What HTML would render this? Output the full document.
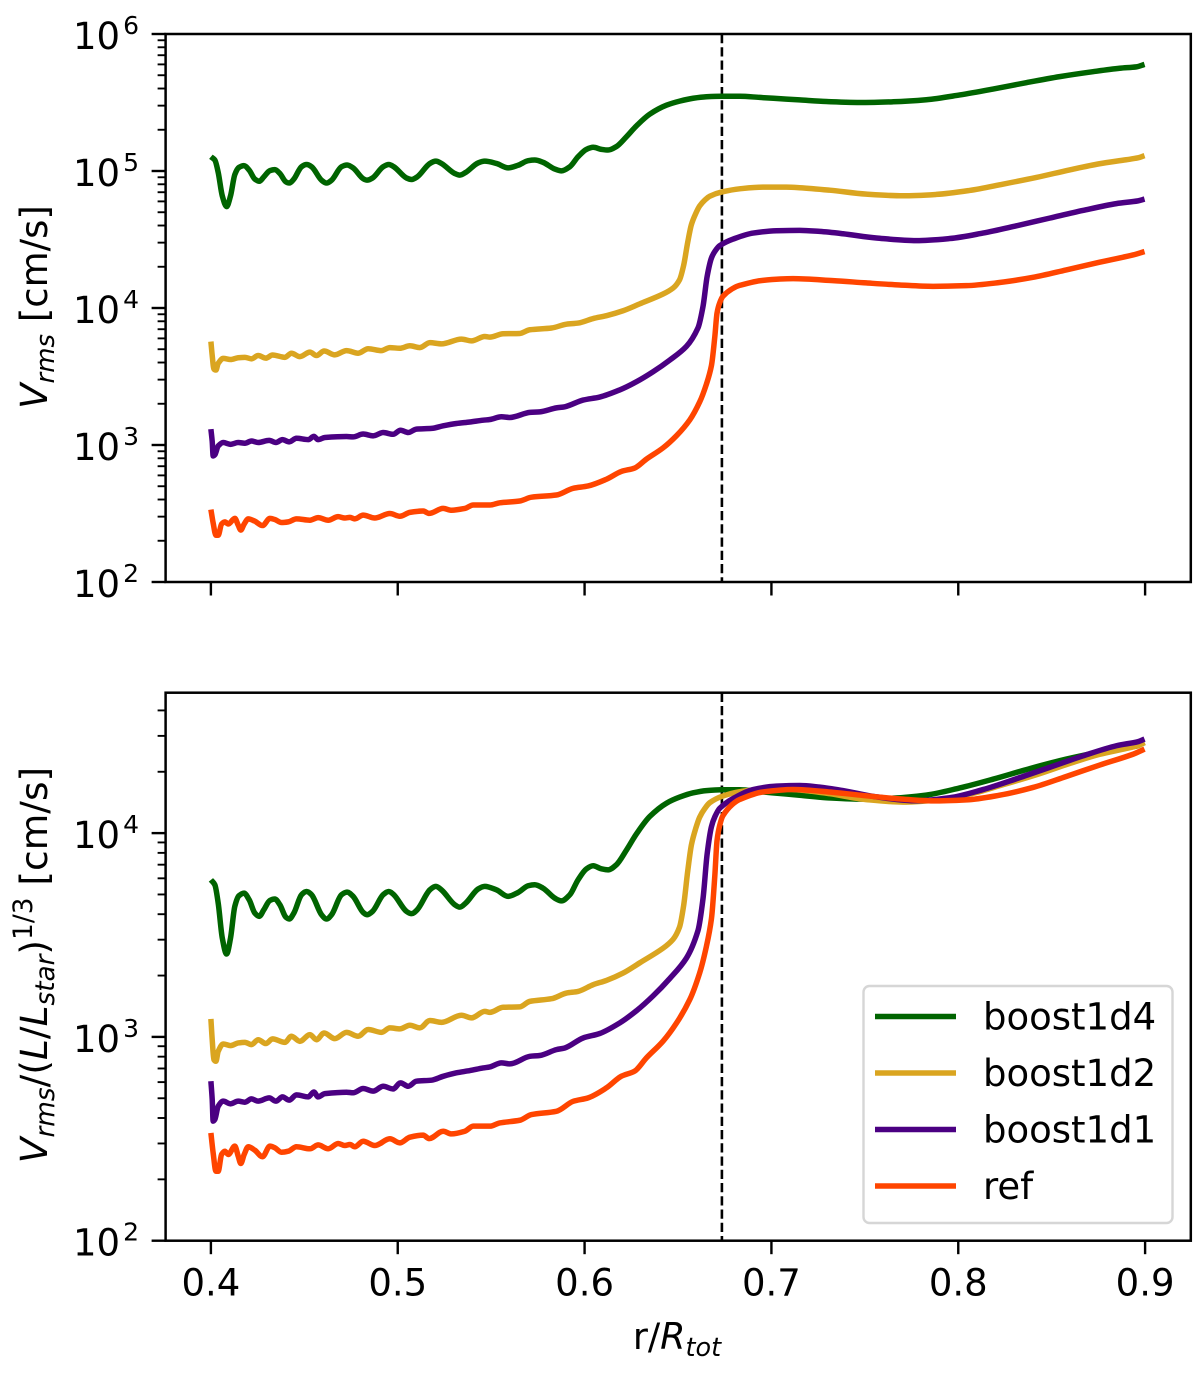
<!DOCTYPE html>
<html lang="en">
<head>
<meta charset="utf-8">
<title>Vrms profiles</title>
<style>
html,body{margin:0;padding:0;background:#fff;}
svg{display:block;}
text{font-family:"DejaVu Sans","Liberation Sans",sans-serif;fill:#000;}
</style>
</head>
<body>
<svg id="figure" xmlns="http://www.w3.org/2000/svg" width="1200" height="1374" viewBox="0 0 1200 1374">
  <rect x="0" y="0" width="1200" height="1374" fill="#fff"/>
  <g id="top-panel"></g>
  <g id="bottom-panel"></g>

  <text transform="translate(47,307) rotate(-90)" text-anchor="middle" font-size="37"><tspan font-style="italic">V</tspan><tspan font-style="italic" font-size="26" dy="7">rms</tspan><tspan dy="-7"> [cm/s]</tspan></text>
  <text transform="translate(47,965) rotate(-90)" text-anchor="middle" font-size="37.6"><tspan font-style="italic">V</tspan><tspan font-style="italic" font-size="26.3" dy="7">rms</tspan><tspan dy="-7">/(</tspan><tspan font-style="italic">L</tspan><tspan>/</tspan><tspan font-style="italic">L</tspan><tspan font-style="italic" font-size="26.3" dy="7">star</tspan><tspan dy="-7">)</tspan><tspan font-size="26.3" dy="-15">1/3</tspan><tspan dy="15"> [cm/s]</tspan></text>
  <text x="677" y="1349" text-anchor="middle" font-size="36.5">r/<tspan font-style="italic">R</tspan><tspan font-style="italic" font-size="25.5" dy="7">tot</tspan></text>

  <g>
    <rect x="863.5" y="986" width="309" height="237" rx="6" ry="6" fill="#fff" fill-opacity="0.8" stroke="#d6d6d6" stroke-width="2.4"/>
    <g>
      <line x1="875" x2="956" y1="1016.5" y2="1016.5" stroke="#006400" stroke-width="5.5"/>
      <text x="983" y="1029.5" font-size="37">boost1d4</text>
    </g>
    <g>
      <line x1="875" x2="956" y1="1073" y2="1073" stroke="#DAA520" stroke-width="5.5"/>
      <text x="983" y="1086" font-size="37">boost1d2</text>
    </g>
    <g>
      <line x1="875" x2="956" y1="1129.5" y2="1129.5" stroke="#4B0082" stroke-width="5.5"/>
      <text x="983" y="1142.5" font-size="37">boost1d1</text>
    </g>
    <g>
      <line x1="875" x2="956" y1="1186" y2="1186" stroke="#FF4500" stroke-width="5.5"/>
      <text x="983" y="1199" font-size="37">ref</text>
    </g>
  </g>
</svg>

<script>
// ---------- chart data (radius r/Rtot, log10 of Vrms in cm/s) ----------
const radiusBoost1d4 = [.4000,.4021,.4039,.4061,.4084,.4105,.4128,.4150,.4177,.4205,.4235,.4259,.4283,.4316,.4342,.4369,.4401,.4419,.4444,.4485,.4512,.4539,.4592,.4619,.4646,.4699,.4729,.4761,.4815,.4836,.4865,.4922,.4952,.4979,.5047,.5074,.5104,.5172,.5204,.5234,.5305,.5332,.5364,.5430,.5466,.5528,.5591,.5644,.5698,.5733,.5778,.5841,.5876,.5921,.5965,.6010,.6046,.6090,.6126,.6170,.6224,.6278,.6349,.6438,.6509,.6581,.6652,.6732,.6830,.6937,.7080,.7151,.7294,.7490,.7651,.7829,.8008,.8186,.8364,.8543,.8721,.8864,.8953,.8997];
const logVrmsBoost1d4 = [5.104,5.080,4.990,4.818,4.740,4.818,4.974,5.026,5.039,5.006,4.941,4.925,4.957,5.003,5.010,4.982,4.921,4.912,4.941,5.031,5.047,5.031,4.933,4.912,4.933,5.031,5.044,5.023,4.944,4.933,4.949,5.031,5.047,5.031,4.949,4.938,4.957,5.055,5.072,5.055,4.982,4.970,4.990,5.059,5.072,5.055,5.023,5.042,5.075,5.080,5.063,5.014,5.001,5.031,5.104,5.158,5.173,5.158,5.153,5.178,5.250,5.330,5.415,5.480,5.510,5.531,5.542,5.546,5.546,5.537,5.525,5.519,5.507,5.500,5.505,5.520,5.555,5.598,5.645,5.689,5.725,5.750,5.760,5.778];

const radiusBoost1d2 = [.4000,.4007,.4016,.4027,.4039,.4066,.4105,.4146,.4182,.4217,.4253,.4294,.4330,.4396,.4431,.4476,.4530,.4565,.4606,.4663,.4726,.4788,.4842,.4913,.4958,.5011,.5065,.5118,.5172,.5234,.5341,.5395,.5466,.5493,.5564,.5653,.5707,.5823,.5903,.5965,.6046,.6117,.6206,.6295,.6420,.6474,.6508,.6530,.6552,.6572,.6595,.6616,.6644,.6670,.6732,.6830,.6955,.7080,.7151,.7312,.7508,.7704,.7883,.8061,.8239,.8418,.8596,.8756,.8899,.8962,.8997];
const logVrmsBoost1d2 = [3.755,3.653,3.555,3.547,3.596,3.632,3.624,3.637,3.640,3.629,3.653,3.634,3.657,3.640,3.670,3.645,3.678,3.653,3.686,3.658,3.689,3.670,3.703,3.689,3.711,3.706,3.724,3.711,3.747,3.738,3.773,3.760,3.792,3.787,3.812,3.814,3.841,3.854,3.882,3.890,3.923,3.944,3.980,4.030,4.102,4.146,4.205,4.310,4.480,4.610,4.690,4.745,4.788,4.816,4.846,4.870,4.882,4.882,4.878,4.860,4.831,4.819,4.829,4.858,4.904,4.953,5.008,5.053,5.082,5.096,5.112];

const radiusBoost1d1 = [.4000,.4007,.4012,.4021,.4039,.4066,.4105,.4146,.4182,.4217,.4253,.4312,.4348,.4383,.4419,.4458,.4521,.4551,.4574,.4610,.4726,.4761,.4815,.4868,.4922,.4975,.5015,.5056,.5100,.5181,.5243,.5314,.5386,.5457,.5493,.5555,.5600,.5707,.5760,.5849,.5894,.5992,.6081,.6188,.6278,.6367,.6456,.6545,.6607,.6634,.6656,.6679,.6698,.6723,.6795,.6902,.7027,.7151,.7258,.7383,.7562,.7776,.7954,.8132,.8311,.8489,.8667,.8846,.8962,.8997];
const logVrmsBoost1d1 = [3.116,3.026,2.920,2.928,2.993,3.018,3.005,3.018,3.013,3.029,3.018,3.034,3.018,3.039,3.023,3.049,3.039,3.063,3.039,3.055,3.062,3.059,3.080,3.067,3.091,3.078,3.108,3.091,3.116,3.121,3.140,3.157,3.168,3.181,3.186,3.206,3.201,3.238,3.242,3.271,3.279,3.328,3.350,3.402,3.462,3.535,3.620,3.720,3.855,4.013,4.231,4.365,4.415,4.455,4.503,4.547,4.564,4.567,4.559,4.542,4.511,4.492,4.507,4.547,4.600,4.656,4.712,4.762,4.782,4.795];

const radiusRef = [.4000,.4012,.4027,.4039,.4057,.4075,.4093,.4128,.4146,.4160,.4178,.4200,.4235,.4276,.4316,.4342,.4378,.4414,.4458,.4530,.4574,.4628,.4681,.4717,.4744,.4770,.4815,.4877,.4958,.5011,.5065,.5136,.5168,.5243,.5288,.5359,.5404,.5493,.5546,.5653,.5716,.5849,.5939,.6019,.6117,.6197,.6268,.6331,.6420,.6492,.6563,.6616,.6652,.6679,.6697,.6709,.6723,.6740,.6790,.6830,.6955,.7116,.7330,.7508,.7686,.7865,.8043,.8221,.8400,.8578,.8757,.8935,.8997];
const logVrmsRef = [2.529,2.431,2.341,2.341,2.423,2.439,2.423,2.464,2.415,2.379,2.423,2.461,2.444,2.412,2.464,2.456,2.434,2.439,2.461,2.451,2.470,2.451,2.477,2.467,2.472,2.461,2.488,2.467,2.500,2.480,2.508,2.518,2.501,2.537,2.524,2.537,2.562,2.562,2.578,2.591,2.619,2.635,2.684,2.701,2.750,2.807,2.832,2.897,2.979,3.068,3.183,3.314,3.444,3.580,3.790,3.964,4.037,4.085,4.140,4.165,4.202,4.214,4.200,4.183,4.168,4.158,4.163,4.186,4.224,4.278,4.334,4.387,4.412];

const seriesNames = ['boost1d4','boost1d2','boost1d1','ref'];
const luminosityBoost = [10000,100,10,1];
const tachoclineRadius = 0.6735;
const xTickValues = [0.4,0.5,0.6,0.7,0.8,0.9];
const xTickLabels = ['0.4','0.5','0.6','0.7','0.8','0.9'];
const topDecades = [2,3,4,5,6];
const bottomDecades = [2,3,4];
const minorMultiples = [2,3,4,5,6,7,8,9];

// ---------- drawing ----------
const seriesRadius = [radiusBoost1d4,radiusBoost1d2,radiusBoost1d1,radiusRef];
const seriesLogV = [logVrmsBoost1d4,logVrmsBoost1d2,logVrmsBoost1d1,logVrmsRef];
const seriesColors = ['#006400','#DAA520','#4B0082','#FF4500'];
const NS = 'http://www.w3.org/2000/svg';

const axLeft = 165.6, axRight = 1190.8;
const xScale = r => 210.9 + (r - 0.4) * 1868.4;

const panels = [
  {id:'top-panel', key:'top', yTop:34, yBottom:582, logMin:2, logMax:6, decades:topDecades, showX:false, scaled:false},
  {id:'bottom-panel', key:'bottom', yTop:692.7, yBottom:1240.7, logMin:2, logMax:4.689, decades:bottomDecades, showX:true, scaled:true}
];

function mk(parent, tag, attrs, text) {
  const el = document.createElementNS(NS, tag);
  for (const k in attrs) el.setAttribute(k, attrs[k]);
  if (text !== undefined) el.textContent = text;
  parent.appendChild(el);
  return el;
}

// monotone cubic path through pixel points
function monotonePath(px, py) {
  const n = px.length, dx = [], m = [], t = [];
  for (let i = 0; i < n - 1; i++) { dx[i] = px[i+1] - px[i]; m[i] = (py[i+1] - py[i]) / dx[i]; }
  t[0] = m[0]; t[n-1] = m[n-2];
  for (let i = 1; i < n - 1; i++) {
    if (m[i-1] * m[i] <= 0) t[i] = 0;
    else {
      const a = (dx[i-1] + 2*dx[i]) / (3*(dx[i-1]+dx[i]));
      const b = 1 - a;
      t[i] = 1 / (a/m[i] + b/m[i-1]);
    }
  }
  let d = 'M' + px[0].toFixed(2) + ' ' + py[0].toFixed(2);
  for (let i = 0; i < n - 1; i++) {
    const h = dx[i] / 3;
    d += 'C' + (px[i]+h).toFixed(2) + ' ' + (py[i]+t[i]*h).toFixed(2) + ' ' + (px[i+1]-h).toFixed(2) + ' ' + (py[i+1]-t[i+1]*h).toFixed(2) + ' ' + px[i+1].toFixed(2) + ' ' + py[i+1].toFixed(2);
  }
  return d;
}

panels.forEach(function (p) {
  const g = document.getElementById(p.id);
  const yScale = lv => p.yBottom - (lv - p.logMin) / (p.logMax - p.logMin) * (p.yBottom - p.yTop);

  // dashed reference line
  const dash = mk(g, 'line', {x1:xScale(tachoclineRadius), x2:xScale(tachoclineRadius), y1:p.yTop, y2:p.yBottom, stroke:'#000', 'stroke-width':2.6, 'stroke-dasharray':'9.25 4'});
  
  

  // series
  seriesNames.forEach(function (name, s) {
    const shift = p.scaled ? Math.log10(luminosityBoost[s]) / 3 : 0;
    const px = seriesRadius[s].map(xScale);
    const py = seriesLogV[s].map(v => yScale(v - shift));
    const line = mk(g, 'path', {d:monotonePath(px, py), fill:'none', stroke:seriesColors[s], 'stroke-width':5.5, 'stroke-linejoin':'round', 'stroke-linecap':'butt'});
    
    
  });

  // spines
  const frame = mk(g, 'rect', {x:axLeft, y:p.yTop, width:axRight-axLeft, height:p.yBottom-p.yTop, fill:'none', stroke:'#000', 'stroke-width':2.5});
  
  

  // x ticks
  xTickValues.forEach(function (v, i) {
    const x = xScale(v);
    const tick = mk(g, 'line', {x1:x, x2:x, y1:p.yBottom, y2:p.yBottom+13.5, stroke:'#000', 'stroke-width':2.4});
    
    
    if (p.showX) {
      const label = mk(g, 'text', {x:x, y:p.yBottom+55, 'text-anchor':'middle', 'font-size':37}, xTickLabels[i]);
      
      
    }
  });

  // y ticks
  p.decades.forEach(function (e) {
    const y = yScale(e);
    const tick = mk(g, 'line', {x1:axLeft-14, x2:axLeft, y1:y, y2:y, stroke:'#000', 'stroke-width':2.4});
    
    
    const label = mk(g, 'text', {x:139, y:y+15, 'text-anchor':'end', 'font-size':37}, '10');
    
    
    mk(label, 'tspan', {dy:-15, dx:3, 'font-size':25}, String(e));

    minorMultiples.forEach(function (k) {
      const lv = e + Math.log10(k);
      if (lv >= p.logMax) return;
      const my = yScale(lv);
      const minor = mk(g, 'line', {x1:axLeft-8, x2:axLeft, y1:my, y2:my, stroke:'#000', 'stroke-width':1.9});
      
      
    });
  });
});
</script>
</body>
</html>
